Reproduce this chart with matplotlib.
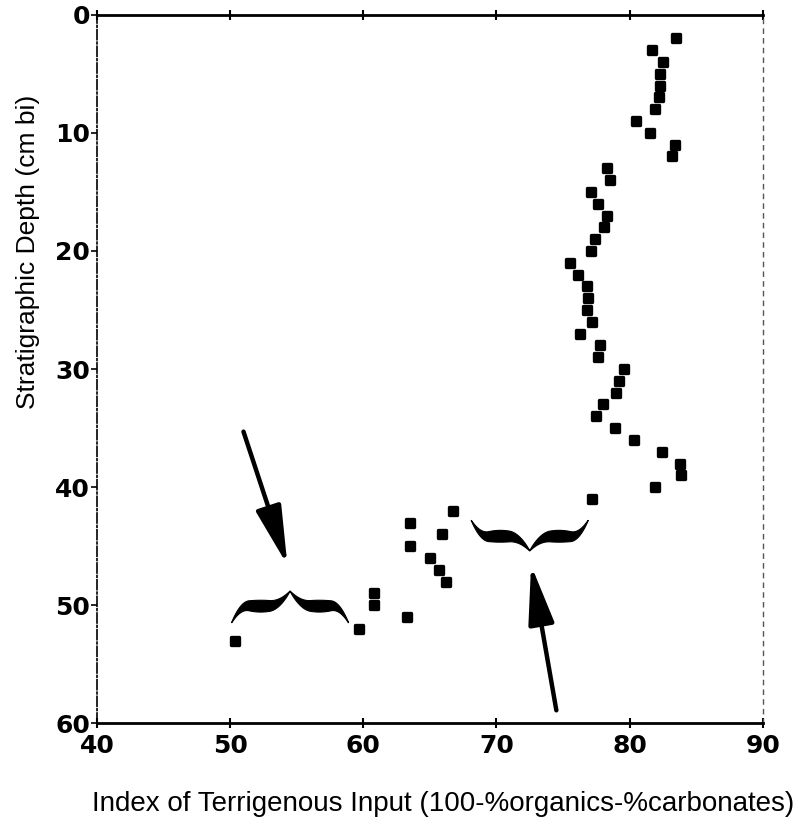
import numpy as np
import matplotlib
matplotlib.use("Agg")
import matplotlib.pyplot as plt
from matplotlib.patches import Polygon
from matplotlib.markers import MarkerStyle

# ---- data ----
depth_cm = list(range(2, 54))
terrigenous_index = [
    83.5, 81.7, 82.5, 82.3, 82.3, 82.2, 81.9, 80.5, 81.5, 83.4,
    83.2, 78.3, 78.5, 77.1, 77.6, 78.3, 78.1, 77.4, 77.1, 75.5,
    76.1, 76.8, 76.9, 76.8, 77.2, 76.3, 77.8, 77.6, 79.6, 79.2,
    79.0, 78.0, 77.5, 78.9, 80.3, 82.4, 83.8, 83.9, 81.9, 77.2,
    66.7, 63.5, 65.9, 63.5, 65.0, 65.7, 66.2, 60.8, 60.8, 63.3,
    59.7, 50.4,
]
x_ticks = [40, 50, 60, 70, 80, 90]
y_ticks = [0, 10, 20, 30, 40, 50, 60]

plt.rcParams['font.family'] = ['Liberation Sans', 'DejaVu Sans']

fig = plt.figure(figsize=(8.02, 8.21), dpi=100)
ax = fig.add_axes([0.121, 0.119, 0.830, 0.863])

ax.plot(terrigenous_index, depth_cm, linestyle='none',
        marker=MarkerStyle('s', joinstyle='round'),
        markersize=5.6, markeredgewidth=2.4, color='black',
        markeredgecolor='black', markerfacecolor='black')

ax.set_xlim(40, 90)
ax.set_ylim(60, 0)
ax.set_xticks(x_ticks)
ax.set_yticks(y_ticks)
ax.tick_params(axis='x', which='both', top=True, bottom=True, direction='inout',
               length=7, width=1.5, labelsize=18, pad=4)
ax.tick_params(axis='y', direction='out', length=4, width=1.2, labelsize=18, pad=1)
for lab in ax.get_xticklabels() + ax.get_yticklabels():
    lab.set_fontweight('bold')
    lab.set_family(['DejaVu Sans'])

for s in ['top', 'bottom']:
    ax.spines[s].set_linewidth(2.0)
ax.spines['left'].set_linewidth(1.2)
ax.spines['left'].set_linestyle((0, (6, 1.5, 1, 1.5)))
ax.spines['right'].set_linewidth(1.0)
ax.spines['right'].set_linestyle((0, (3, 4)))
ax.spines['right'].set_color('#555555')

ax.set_xlabel('Index of Terrigenous Input (100-%organics-%carbonates)',
              fontsize=20)
ax.xaxis.set_label_coords(0.52, -0.095)
ax.set_ylabel('Stratigraphic Depth (cm bi)', fontsize=19)
ax.yaxis.set_label_coords(-0.086, 0.665)


def brace(ax, xl, xr, y_end, y_tip, wmax):
    xc = 0.5 * (xl + xr)
    u = np.linspace(0, 1, 200)
    f = 0.6 * (1 - (1 - np.minimum(u / 0.3, 1)) ** 2) \
        + 0.4 * np.maximum((u - 0.65) / 0.35, 0) ** 2
    w = wmax * np.sin(np.pi * u) ** 0.8
    yc = y_end + f * (y_tip - y_end)
    sgn = 1 if y_tip < y_end else -1
    xs_l = xl + u * (xc - xl)
    top_l = yc - sgn * 0.3 * w
    bot_l = yc + sgn * 0.7 * w
    xs_r = xr - u * (xr - xc)
    xs = np.concatenate([xs_l, xs_r[::-1], xs_r, xs_l[::-1]])
    ys = np.concatenate([top_l, top_l[::-1], bot_l, bot_l[::-1]])
    ax.add_patch(Polygon(np.column_stack([xs, ys]), closed=True,
                         facecolor='black', edgecolor='black', lw=0.8,
                         clip_on=False))


brace(ax, 50.1, 58.9, 51.5, 48.8, 1.0)
brace(ax, 68.1, 76.9, 42.8, 45.4, 1.0)

arrow_style = dict(arrowstyle='-|>,head_length=1.5,head_width=0.33',
                   lw=3.2, color='black', mutation_scale=24,
                   shrinkA=0, shrinkB=0)
ax.annotate('', xy=(54.3, 46.6), xytext=(51.0, 35.3), arrowprops=arrow_style)
ax.annotate('', xy=(72.6, 46.6), xytext=(74.5, 58.9), arrowprops=arrow_style,
            annotation_clip=False)

fig.savefig('out.png', dpi=100)
